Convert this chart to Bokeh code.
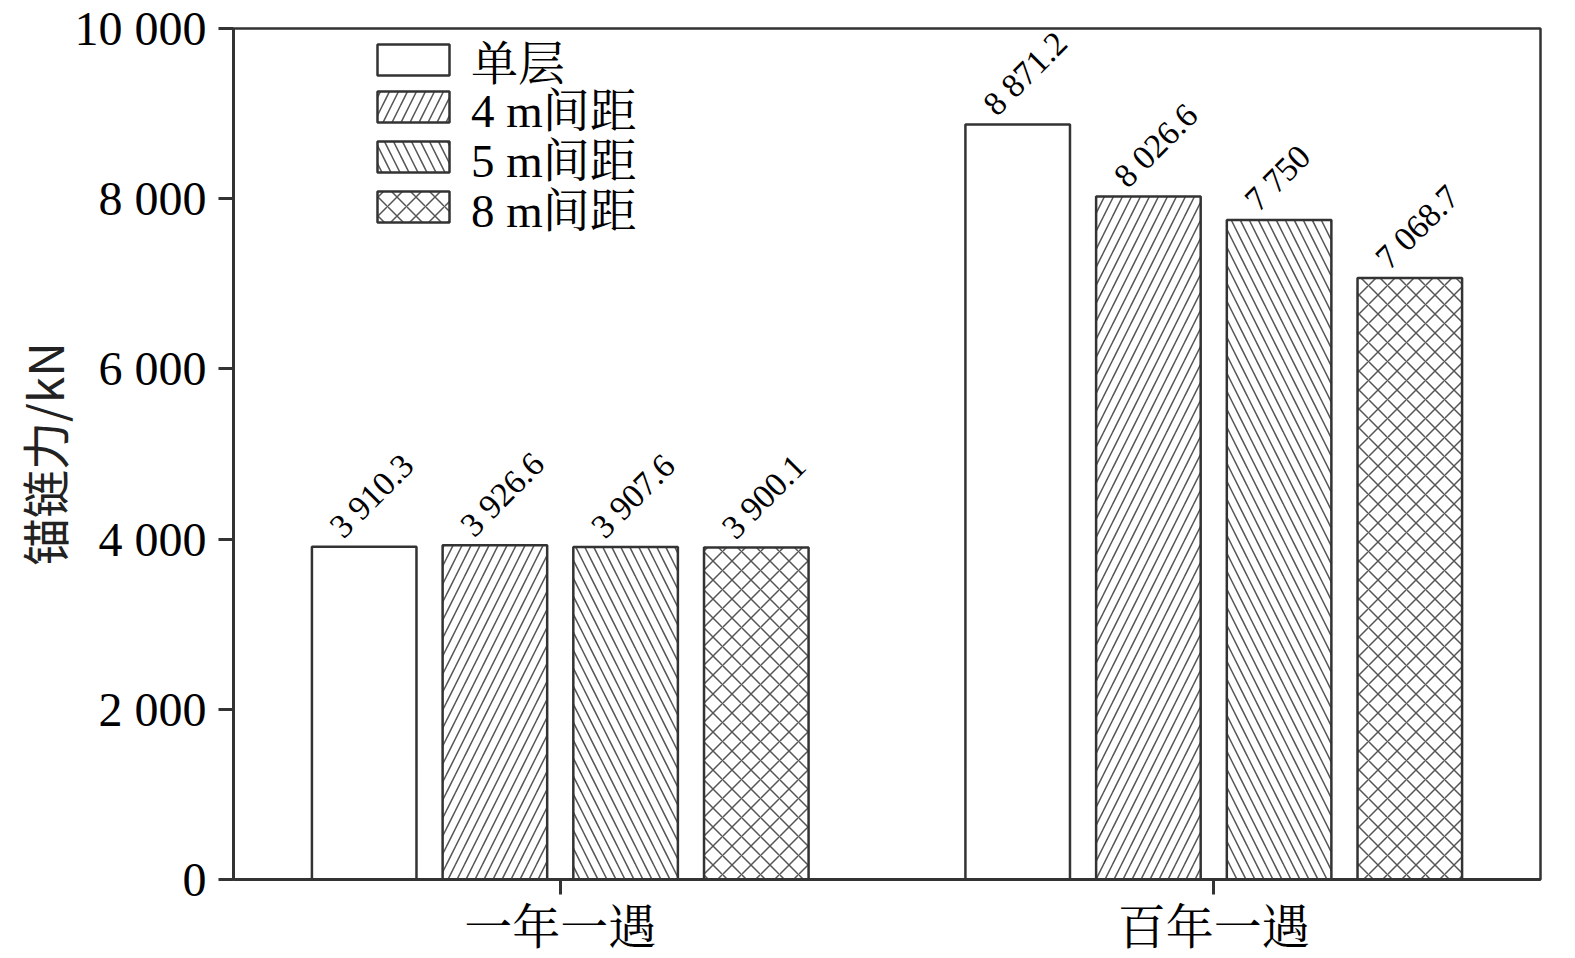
from bokeh.plotting import figure
from bokeh.models import ColumnDataSource, FactorRange, FixedTicker, Range1d, Legend, LegendItem
from bokeh.transform import dodge
from bokeh.core.properties import value
from bokeh.embed import file_html
from bokeh.resources import INLINE

categories = ["一年一遇", "百年一遇"]
series = ["单层", "4 m间距", "5 m间距", "8 m间距"]
v_single = [3910.3, 8871.2]
v_4m = [3926.6, 8026.6]
v_5m = [3907.6, 7750.0]
v_8m = [3900.1, 7068.7]
y_ticks = [0, 2000, 4000, 6000, 8000, 10000]
y_tick_labels = ["0", "2 000", "4 000", "6 000", "8 000", "10 000"]
y_title = "锚链力/kN"

all_values = [v_single, v_4m, v_5m, v_8m]
offsets = [-0.3, -0.1, 0.1, 0.3]
hatches = [" ", "/", "\\", "x"]
hatch_scales = [18, 18, 18, 19]
legend_y = [786, 739, 689, 639]

SERIF = "'Liberation Serif', 'Noto Serif CJK SC', 'Noto Sans CJK SC', serif"


def fmt(v):
    s = f"{v:,.1f}".replace(",", " ")
    if s.endswith(".0"):
        s = s[:-2]
    return s


p = figure(x_range=FactorRange(*categories, range_padding=0), y_range=Range1d(0, 10000),
           frame_width=1307, frame_height=851, output_backend="svg", toolbar_location=None,
           min_border_left=233, min_border_top=28, min_border_right=20, min_border_bottom=40)
p.background_fill_color = "white"
p.outline_line_color = "#333333"
p.outline_line_width = 2.5
p.grid.visible = False

for name, vals, off, hp, hs, ly in zip(series, all_values, offsets, hatches, hatch_scales, legend_y):
    src = ColumnDataSource(dict(cat=categories, val=vals, lab=[fmt(v) for v in vals]))
    r = p.vbar(x=dodge("cat", off, range=p.x_range), top="val", bottom=0, width=0.16, source=src,
               fill_color="white", line_color="#333333", line_width=2.5,
               hatch_pattern=hp, hatch_color="#555555", hatch_scale=hs, hatch_weight=1.5)
    p.text(x=dodge("cat", off - 0.024, range=p.x_range), y="val", text="lab", source=src,
           angle=0.785398, text_align="left", text_baseline="bottom", y_offset=-2,
           text_font=value(SERIF), text_font_size="34px", text_color="black")
    lg = Legend(items=[LegendItem(label=name, renderers=[r])], location=(135, ly),
                glyph_width=90, glyph_height=39, label_text_font=SERIF,
                label_text_font_size="47px", label_text_color="black",
                spacing=0, label_standoff=13, padding=0, margin=0,
                border_line_color=None, background_fill_alpha=0)
    p.add_layout(lg, "center")

p.yaxis.ticker = FixedTicker(ticks=y_ticks)
p.yaxis.major_label_overrides = {t: l for t, l in zip(y_ticks, y_tick_labels)}
p.yaxis.minor_tick_line_color = None
p.yaxis.axis_label = y_title
p.yaxis.axis_label_text_font = "'Noto Sans CJK SC', sans-serif"
p.yaxis.axis_label_text_font_style = "normal"
p.yaxis.axis_label_text_font_size = "48px"
p.yaxis.axis_label_text_color = "#222222"
p.yaxis.axis_label_standoff = -6

for ax in [p.xaxis[0], p.yaxis[0]]:
    ax.axis_line_color = "#333333"
    ax.axis_line_width = 3
    ax.major_tick_line_color = "#333333"
    ax.major_tick_line_width = 3
    ax.major_tick_in = 0
    ax.major_tick_out = 15
    ax.major_label_text_font = SERIF
    ax.major_label_text_color = "black"

p.yaxis.major_label_text_font_size = "48px"
p.yaxis.major_label_standoff = 12
p.xaxis.major_label_text_font_size = "48px"
p.xaxis.major_label_standoff = 6

open("out.html", "w").write(file_html(p, INLINE))
